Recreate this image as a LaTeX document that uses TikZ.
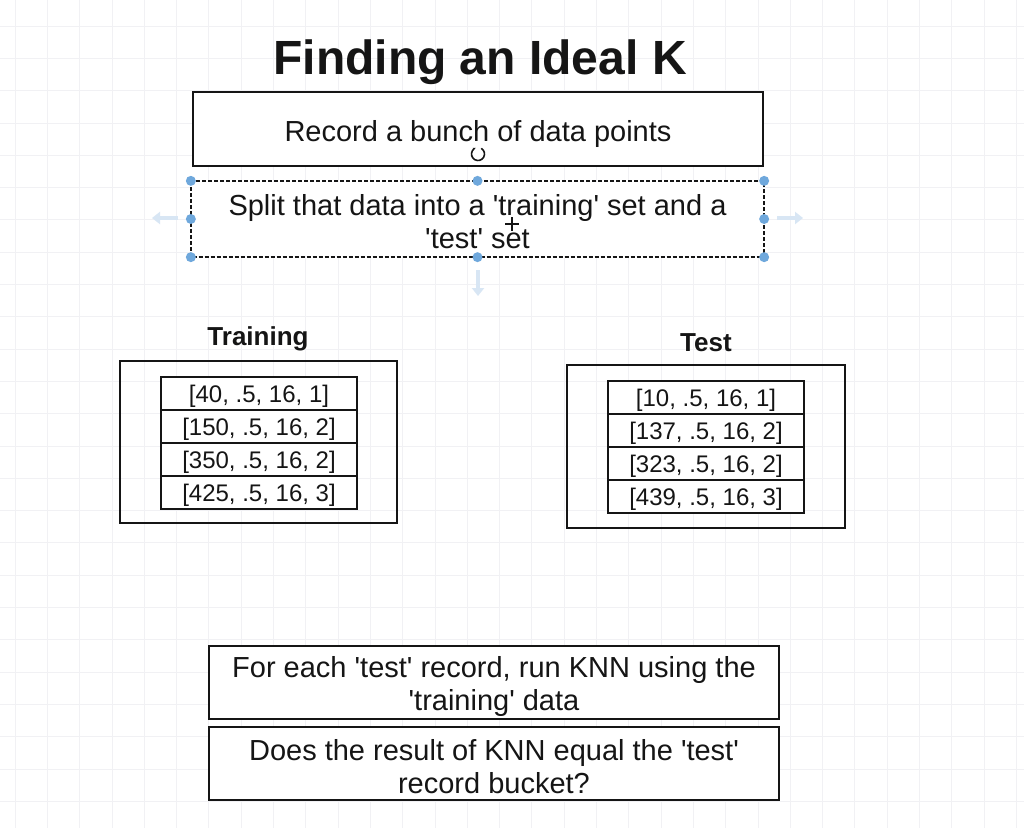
\documentclass[tikz,border=0pt]{standalone}
\usepackage{fontspec}
\setmainfont{Liberation Sans}
\usetikzlibrary{arrows.meta}
\definecolor{handle}{HTML}{6FA8DC}
\definecolor{ghost}{HTML}{D8E6F4}
\definecolor{gridc}{HTML}{F1F1F4}
\definecolor{ink}{HTML}{151515}
\newcommand\sq{\textquotesingle}
\tikzset{
  box/.style={draw=ink, line width=2.3pt, fill=white, inner sep=0pt},
  boxtext/.style={align=center, text=ink, font=\fontsize{29}{33}\selectfont},
  rowbox/.style={draw=ink, line width=2pt, fill=white, inner sep=0pt, text depth=0pt,
    minimum width=196pt, minimum height=33pt, text=ink, font=\fontsize{24}{26}\selectfont},
  lbl/.style={text=ink, font=\bfseries\fontsize{26}{28}\selectfont},
  hdl/.style={fill=handle},
  ghostarrow/.style={draw=ghost, line width=4pt, -{Triangle[width=12pt,length=8pt]}}
}
\begin{document}
\begin{tikzpicture}[x=1pt,y=-1pt]
\useasboundingbox (0,0) rectangle (1024,828);
\fill[white] (0,0) rectangle (1024,828);
\foreach \i in {0,...,31} {
  \draw[gridc, line width=0.8pt] ({15+32.3*\i},0) -- ({15+32.3*\i},828);
}
\foreach \j in {0,...,25} {
  \draw[gridc, line width=0.8pt] (0,{26+32.3*\j}) -- (1024,{26+32.3*\j});
}
% title
\node[text=ink, font=\bfseries\fontsize{48}{52}\selectfont] (title) at (480,62) {Finding an Ideal K};
% top boxes
\node[box, minimum width=570pt, minimum height=74pt] (rec) at (478,129) {};
\node[boxtext, text depth=0pt, yshift=-2pt] (rectxt) at (rec.center) {Record a bunch of data points};
\node[box, draw=none, minimum width=571pt, minimum height=74pt] (split) at (477.5,219) {};
\node[boxtext, yshift=-2.5pt] (splittxt) at (split.center)
  {Split that data into a \sq training\sq{} set and a\\\sq test\sq{} set};
\draw[ink, line width=2pt, dash pattern=on 4pt off 2pt] (split.north west) rectangle (split.south east);
% selection decorations
\draw[ghostarrow] (178,218) -- (152,218);
\draw[ghostarrow] (777,218) -- (803,218);
\draw[ghostarrow] (478,270) -- (478,296);
\foreach \p in {north west, north, north east, west, east, south west, south, south east}
  \fill[hdl] (split.\p) circle (5pt);
\draw[ink, line width=1.6pt, -{Stealth[length=3pt]}] (478,154) ++(-60:6.5) arc[start angle=-60, end angle=250, radius=6.5];
\draw[ink, line width=1.6pt] (505,224) -- (519,224) (512,217) -- (512,231);
% training
\node[lbl] (trainlbl) at (258,339) {Training};
\node[draw=ink, line width=2.3pt, minimum width=277pt, minimum height=162pt, inner sep=0pt] (trainbox) at (258.5,442) {};
\node[rowbox] (tr1) at (259,393.5) {[40, .5, 16, 1]};
\node[rowbox] (tr2) at (259,426.5) {[150, .5, 16, 2]};
\node[rowbox] (tr3) at (259,459.5) {[350, .5, 16, 2]};
\node[rowbox] (tr4) at (259,492.5) {[425, .5, 16, 3]};
% test
\node[lbl] (testlbl) at (706,343) {Test};
\node[draw=ink, line width=2.3pt, minimum width=278pt, minimum height=163pt, inner sep=0pt] (testbox) at (706,446.5) {};
\node[rowbox] (te1) at (706,397.5) {[10, .5, 16, 1]};
\node[rowbox] (te2) at (706,430.5) {[137, .5, 16, 2]};
\node[rowbox] (te3) at (706,463.5) {[323, .5, 16, 2]};
\node[rowbox] (te4) at (706,496.5) {[439, .5, 16, 3]};
% bottom boxes
\node[box, minimum width=570pt, minimum height=73pt] (knn) at (494,682.5) {};
\node[boxtext, yshift=-3.5pt] (knntxt) at (knn.center)
  {For each \sq test\sq{} record, run KNN using the\\\sq training\sq{} data};
\node[box, minimum width=570pt, minimum height=73pt] (eq) at (494,763.5) {};
\node[boxtext, yshift=-3.5pt] (eqtxt) at (eq.center)
  {Does the result of KNN equal the \sq test\sq\\record bucket?};
\end{tikzpicture}
\end{document}
